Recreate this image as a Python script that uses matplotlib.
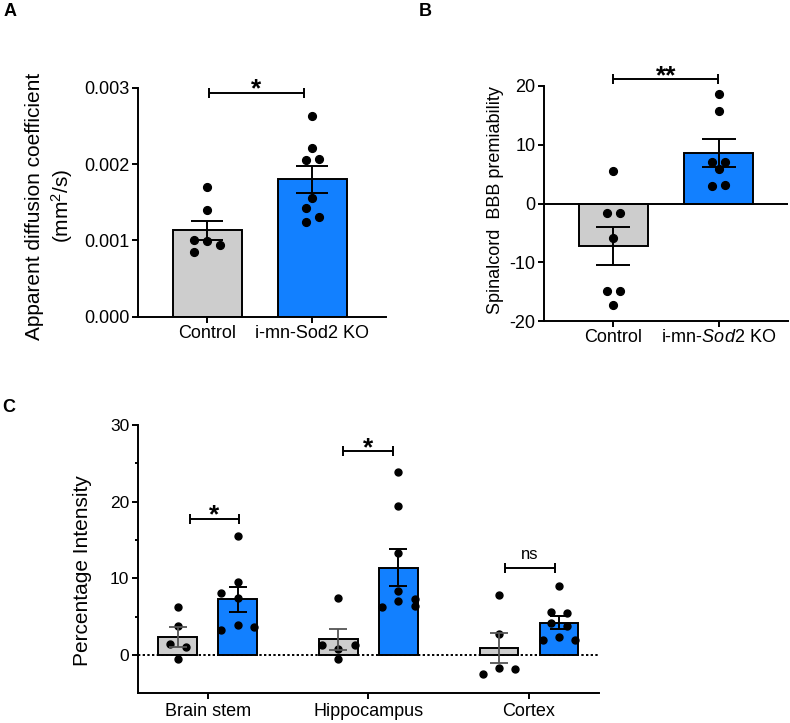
import matplotlib
matplotlib.use("Agg")
import matplotlib.pyplot as plt
from matplotlib.ticker import FixedLocator

plt.rcParams['font.family'] = ['Liberation Sans', 'DejaVu Sans']
plt.rcParams['mathtext.fontset'] = 'custom'
plt.rcParams['mathtext.rm'] = 'Liberation Sans'
plt.rcParams['mathtext.it'] = 'Liberation Sans:italic'
plt.rcParams['axes.unicode_minus'] = False

# ---------------- data ----------------
# Panel A
a_groups = ["Control", "i-mn-Sod2 KO"]
a_means = [0.00113, 0.00180]
a_sems = [0.00013, 0.00018]
a_ctrl_pts = [0.00170, 0.00140, 0.00100, 0.00099, 0.00094, 0.00085]
a_ko_pts = [0.00263, 0.00221, 0.00206, 0.00207, 0.00155, 0.00142, 0.00124, 0.00131]
a_yticks = [0.000, 0.001, 0.002, 0.003]
a_yticklabels = ["0.000", "0.001", "0.002", "0.003"]

# Panel B
b_groups = ["Control", "i-mn-$\\it{Sod2}$ KO"]
b_means = [-7.2, 8.6]
b_sems = [3.2, 2.33]
b_ctrl_pts = [5.55, -1.7, -1.7, -5.9, -14.9, -14.9, -17.2]
b_ko_pts = [18.6, 15.8, 7.1, 7.1, 5.85, 3.06, 3.2]
b_yticks = [-20, -10, 0, 10, 20]

# Panel C
c_regions = ["Brain stem", "Hippocampus", "Cortex"]
c_ctrl_means = [2.34, 2.04, 0.87]
c_ctrl_sems = [1.25, 1.40, 1.95]
c_ko_means = [7.25, 11.38, 4.21]
c_ko_sems = [1.67, 2.40, 0.85]
c_ctrl_pts = [
    [6.25, 3.73, 1.43, 1.09, -0.48],
    [7.47, 1.35, 1.26, 0.74, -0.48],
    [7.77, 2.69, -2.52, -1.65, -1.87],
]
c_ko_pts = [
    [15.55, 9.55, 8.12, 7.38, 3.30, 3.86, 3.60],
    [23.88, 19.37, 13.24, 8.38, 7.08, 6.21, 7.34, 6.34],
    [8.94, 5.56, 5.43, 4.17, 3.78, 2.39, 1.91, 1.91],
]
c_sig = ["*", "*", "ns"]
c_yticks = [0, 10, 20, 30]

# ---------------- layout / style ----------------
GREY = "#cdcdcd"
BLUE = "#1280ff"
LW = 1.4

# horizontal jitter of the dots (in units of one dot step)
a_ctrl_jit = [0, 0, -1, 0, 1, -1]
a_ko_jit = [0, 0, -1, 1, 0, -1, -1, 1]
b_ctrl_jit = [0, -1, 1, 0, -1, 1, 0]
b_ko_jit = [0, 0, -1, 1, 0, -1, 1]
c_ctrl_jit = [[0, 0, -1, 1, 0], [0, -2, 2, 0, 0], [0, 0, -2, 0, 2]]
c_ko_jit = [[0, 0, -2, 0, -2, 0, 2], [0, 0, 0, 0, 0, -2, 2, 2],
            [0, -1, 1, -1, 1, 0, -2, 2]]

fig = plt.figure(figsize=(7.9, 7.23), dpi=100)
W, H = 790, 723


def ax_px(l, t, r, b):
    return fig.add_axes([l / W, 1 - b / H, (r - l) / W, (b - t) / H])


def style(ax):
    for s in ["top", "right"]:
        ax.spines[s].set_visible(False)
    for s in ["left", "bottom"]:
        ax.spines[s].set_linewidth(LW)
    ax.tick_params(width=LW, length=4, direction="out", labelsize=13, pad=2)


def bracket(ax, x1, x2, y, ms=6.5):
    ax.plot([x1, x2], [y, y], color="k", lw=LW, marker="|", ms=ms, mew=LW,
            solid_capstyle="butt", clip_on=False, zorder=5)


def star(ax, x, yc, text, size, bold=True):
    off = 0.58 * size if "*" in text else 0.26 * size
    ax.annotate(text, (x, yc), xytext=(0, -off), textcoords="offset points",
                ha="center", va="baseline", fontsize=size,
                fontweight="bold" if bold else "normal", annotation_clip=False)


def dots(ax, x, pts, jit, step, ms):
    xs = [x + j * step for j in jit]
    ax.plot(xs, pts, "o", color="k", ms=ms, mec="k", zorder=6, clip_on=False)


# ---------------- Panel A ----------------
axA = ax_px(138, 88, 386, 316.5)
style(axA)
bw = 0.65
cols = [GREY, BLUE]
for i in range(2):
    axA.bar(i, a_means[i], width=bw, color=cols[i], edgecolor="k", lw=LW, zorder=2)
    axA.errorbar(i, a_means[i], yerr=a_sems[i], color="k", lw=LW, capsize=11.5,
                 capthick=LW, zorder=7)
dots(axA, 0, a_ctrl_pts, a_ctrl_jit, 0.125, 5.6)
dots(axA, 1, a_ko_pts, a_ko_jit, 0.063, 5.6)
axA.set_xlim(-0.66, 1.70)
axA.set_ylim(0, 0.003)
axA.set_yticks(a_yticks)
axA.set_yticklabels(a_yticklabels)
axA.set_xticks([0, 1])
axA.set_xticklabels(a_groups)
bracket(axA, 0.02, 0.92, 0.00294)
star(axA, 0.46, 0.00309, "*", 19)
fig.text(50 / W, 1 - 206 / H, "Apparent diffusion coefficient\n(mm$^2$/s)",
         rotation=90, ha="center", va="center", fontsize=15,
         multialignment="center", linespacing=1.25)

# ---------------- Panel B ----------------
axB = ax_px(544, 86, 788, 321)
style(axB)
for i in range(2):
    axB.bar(i, b_means[i], width=bw, color=cols[i], edgecolor="k", lw=LW, zorder=2)
    axB.errorbar(i, b_means[i], yerr=b_sems[i], color="k", lw=LW, capsize=12.5,
                 capthick=LW, zorder=7)
axB.axhline(0, color="k", lw=LW, zorder=3)
dots(axB, 0, b_ctrl_pts, b_ctrl_jit, 0.063, 5.6)
dots(axB, 1, b_ko_pts, b_ko_jit, 0.063, 5.6)
axB.set_xlim(-0.66, 1.66)
axB.set_ylim(-20, 20)
axB.set_yticks(b_yticks)
axB.set_xticks([0, 1])
axB.set_xticklabels(b_groups)
bracket(axB, 0.0, 0.99, 21.2)
star(axB, 0.5, 23.0, "**", 19)
fig.text(496 / W, 1 - 200 / H, "Spinalcord  BBB premiability",
         rotation=90, ha="center", va="center", fontsize=13)

# ---------------- Panel C ----------------
axC = ax_px(137.7, 425, 599, 693.3)
style(axC)
off = 0.187
cw = 0.24
for i in range(3):
    axC.bar(i - off, c_ctrl_means[i], width=cw, color=GREY, edgecolor="k",
            lw=LW, zorder=2)
    axC.bar(i + off, c_ko_means[i], width=cw, color=BLUE, edgecolor="k",
            lw=LW, zorder=2)
    axC.errorbar(i - off, c_ctrl_means[i], yerr=c_ctrl_sems[i], color="#555555",
                 lw=1.3, capsize=6.5, capthick=1.3, zorder=7)
    axC.errorbar(i + off, c_ko_means[i], yerr=c_ko_sems[i], color="k",
                 lw=LW, capsize=6.5, capthick=LW, zorder=7)
    dots(axC, i - off, c_ctrl_pts[i], c_ctrl_jit[i], 0.051, 5.0)
    dots(axC, i + off, c_ko_pts[i], c_ko_jit[i], 0.051, 5.0)
axC.axhline(0, color="k", lw=1.4, ls=(0, (1.2, 1.2)), zorder=1)
axC.set_xlim(-0.436, 2.436)
axC.set_ylim(-5, 30)
axC.set_yticks(c_yticks)
axC.yaxis.set_minor_locator(FixedLocator([5, 15, 25]))
axC.tick_params(which="minor", length=2.5, width=LW)
axC.tick_params(which="major", labelsize=12.5)
axC.tick_params(axis="x", labelsize=13, pad=3)
axC.set_xticks([0, 1, 2])
axC.set_xticklabels(c_regions)
c_br = [(-0.112, 0.195, 17.8), (-0.156, 0.156, 26.6), (-0.149, 0.162, 11.3)]
c_txt_y = [19.35, 28.0, 13.1]
for i in range(3):
    x1, x2, yb = c_br[i]
    bracket(axC, i + x1, i + x2, yb)
    if c_sig[i] == "ns":
        star(axC, i + (x1 + x2) / 2, c_txt_y[i], "ns", 12, bold=False)
    else:
        star(axC, i + (x1 + x2) / 2, c_txt_y[i], c_sig[i], 19)
fig.text(82 / W, 1 - 571 / H, "Percentage Intensity",
         rotation=90, ha="center", va="center", fontsize=15)

# panel letters
for lab, x, y in [("A", 10, 11), ("B", 425, 11), ("C", 9, 408)]:
    fig.text(x / W, 1 - y / H, lab, ha="center", va="center", fontsize=13,
             fontweight="bold")

fig.savefig("out.png", dpi=100)
